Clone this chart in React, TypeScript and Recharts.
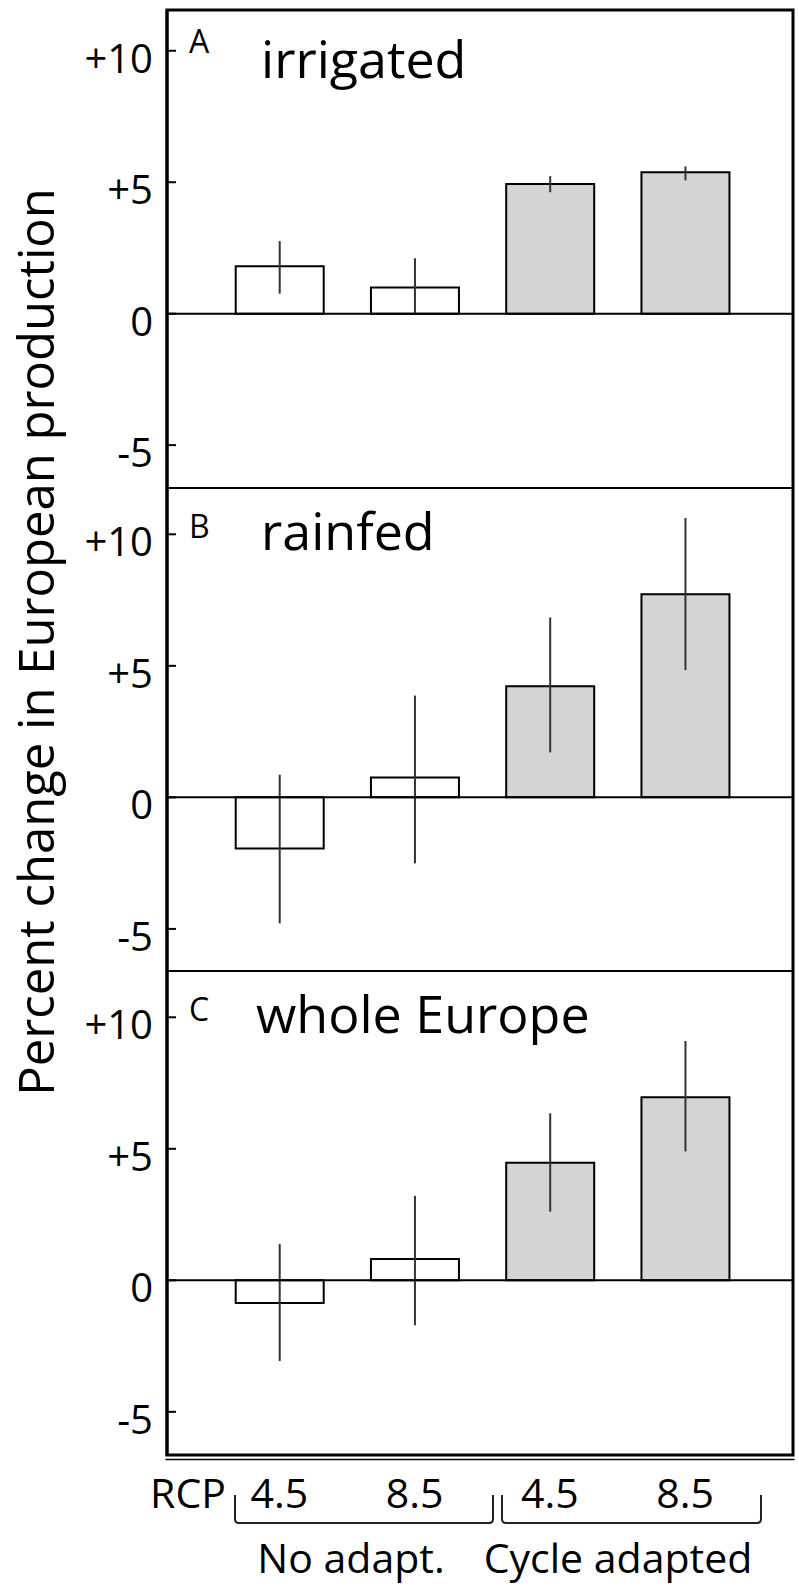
import { BarChart, Bar, XAxis, YAxis, Cell, ErrorBar, ReferenceLine } from 'recharts'

// RCP scenario per bar, and which adaptation group it belongs to
const categories = ['4.5', '8.5', '4.5', '8.5']
const groups = ['none', 'none', 'cycle', 'cycle']
const groupLabels = ['No adapt.', 'Cycle adapted']

// A: irrigated
const irrigatedValues = [1.8, 1.0, 4.93, 5.38]
const irrigatedLow = [0.76, 0.0, 4.62, 5.07]
const irrigatedHigh = [2.76, 2.11, 5.23, 5.6]

// B: rainfed
const rainfedValues = [-1.94, 0.76, 4.22, 7.72]
const rainfedLow = [-4.79, -2.51, 1.71, 4.84]
const rainfedHigh = [0.86, 3.87, 6.84, 10.62]

// C: whole Europe
const wholeValues = [-0.86, 0.81, 4.47, 6.96]
const wholeLow = [-3.07, -1.71, 2.61, 4.9]
const wholeHigh = [1.38, 3.21, 6.35, 9.1]

const yTicks = [-5, 0, 5, 10]
const yTickLabels = ['-5', '0', '+5', '+10']

const FONT = "'Open Sans', sans-serif"

function YTick(props: any) {
  const { x, y, payload } = props
  const axisX = x + 14
  const label = yTickLabels[yTicks.indexOf(payload.value)]
  return (
    <g>
      <line x1={axisX} x2={axisX + 9} y1={y} y2={y} stroke="#000" strokeWidth={2} />
      <text x={x} y={y} dy="0.55em" textAnchor="end" fontSize={40} fill="#000" fontFamily={FONT}>
        {label}
      </text>
    </g>
  )
}

interface PanelProps {
  values: number[]
  low: number[]
  high: number[]
  domain: [number, number]
  top: number
  plotHeight: number
  showX?: boolean
}

function Panel({ values, low, high, domain, top, plotHeight, showX }: PanelProps) {
  const data = categories.map((name, i) => ({
    name,
    value: values[i],
    err: [values[i] - low[i], high[i] - values[i]],
    group: groups[i],
  }))
  const xHeight = showX ? 70 : 0

  return (
    <div style={{ position: 'absolute', left: 0, top }}>
      <BarChart
        width={799}
        height={plotHeight + xHeight}
        data={data}
        margin={{ top: 0, right: 6, bottom: 0, left: 0 }}
        barSize={88}
      >
        <XAxis
          dataKey="name"
          hide={!showX}
          height={xHeight}
          padding={{ left: 44.7, right: 40.3 }}
          axisLine={false}
          tickLine={false}
          tickSize={0}
          tickMargin={23}
          interval={0}
          tick={{ fontSize: 41, fill: '#000', fontFamily: FONT }}
        />
        <YAxis
          width={167}
          domain={domain}
          ticks={yTicks}
          allowDataOverflow
          interval={0}
          axisLine={{ stroke: '#000', strokeWidth: 3 }}
          tickLine={false}
          tickSize={0}
          tickMargin={14}
          tick={<YTick />}
        />
        <Bar dataKey="value" stroke="#000" strokeWidth={2} isAnimationActive={false}>
          {data.map((d, i) => (
            <Cell key={i} fill={d.group === 'cycle' ? '#d4d4d4' : '#ffffff'} />
          ))}
          <ErrorBar dataKey="err" width={0} stroke="#333" strokeWidth={2} direction="y" />
        </Bar>
        <ReferenceLine y={0} stroke="#000" strokeWidth={2} />
      </BarChart>
    </div>
  )
}

export default function App() {
  return (
    <div
      style={{
        position: 'absolute',
        left: 0,
        top: 0,
        width: 799,
        height: 1588,
        background: '#fff',
        fontFamily: FONT,
      }}
    >
      <Panel values={irrigatedValues} low={irrigatedLow} high={irrigatedHigh} domain={[-6.63, 11.55]} top={10} plotHeight={478} />
      <Panel values={rainfedValues} low={rainfedLow} high={rainfedHigh} domain={[-6.6, 11.76]} top={488} plotHeight={483} />
      <Panel values={wholeValues} low={wholeLow} high={wholeHigh} domain={[-6.68, 11.76]} top={971} plotHeight={485} showX />

      <svg width={799} height={1588} style={{ position: 'absolute', left: 0, top: 0, pointerEvents: 'none' }}>
        {/* frame and panel dividers */}
        <rect x={167} y={10} width={626} height={1445} fill="none" stroke="#000" strokeWidth={3} />
        <line x1={167} x2={793} y1={488} y2={488} stroke="#000" strokeWidth={2} />
        <line x1={167} x2={793} y1={971} y2={971} stroke="#000" strokeWidth={2} />
        <line x1={165.5} x2={794.5} y1={1459.5} y2={1459.5} stroke="#000" strokeWidth={1.5} />

        <g fontFamily={FONT} fill="#000">
          <text x={189} y={53} fontSize={32}>A</text>
          <text x={261} y={78} fontSize={52}>irrigated</text>
          <text x={189} y={538} fontSize={32}>B</text>
          <text x={261} y={550} fontSize={52}>rainfed</text>
          <text x={189} y={1021} fontSize={32}>C</text>
          <text x={256} y={1033} fontSize={52}>whole Europe</text>

          <text x={54} y={642} fontSize={49} textAnchor="middle" transform="rotate(-90 54 642)">
            Percent change in European production
          </text>

          <text x={188} y={1508} fontSize={41} textAnchor="middle">RCP</text>
          <text x={351} y={1573} fontSize={41} textAnchor="middle">{groupLabels[0]}</text>
          <text x={618} y={1573} fontSize={41} textAnchor="middle">{groupLabels[1]}</text>
        </g>

        {/* group braces */}
        <path d="M235,1495 L235,1519 Q235,1523 239,1523 L489,1523 Q493,1523 493,1519 L493,1495" fill="none" stroke="#222" strokeWidth={2} />
        <path d="M502,1495 L502,1519 Q502,1523 506,1523 L757,1523 Q761,1523 761,1519 L761,1495" fill="none" stroke="#222" strokeWidth={2} />
      </svg>
    </div>
  )
}
